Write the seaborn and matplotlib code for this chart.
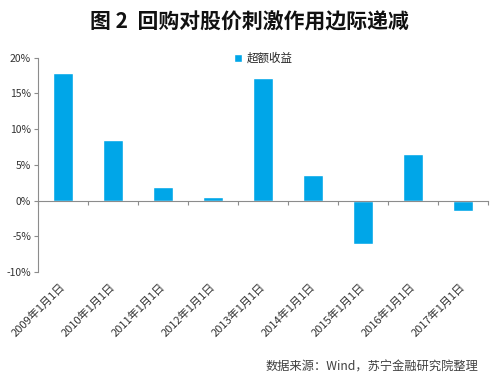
import matplotlib
matplotlib.use("Agg")
import matplotlib.pyplot as plt
import matplotlib.ticker as mticker
import seaborn as sns
import pandas as pd

categories = ["2009年1月1日", "2010年1月1日", "2011年1月1日", "2012年1月1日", "2013年1月1日",
              "2014年1月1日", "2015年1月1日", "2016年1月1日", "2017年1月1日"]
excess_return = [17.8, 8.5, 1.85, 0.45, 17.1, 3.6, -6.05, 6.45, -1.45]
series_name = "超额收益"
title = "图 2  回购对股价刺激作用边际递减"
source = "数据来源：Wind，苏宁金融研究院整理"
y_ticks = [-10, -5, 0, 5, 10, 15, 20]

sns.set_style("white")
plt.rcParams["font.family"] = ["Noto Sans CJK SC", "DejaVu Sans"]
plt.rcParams["axes.unicode_minus"] = False

df = pd.DataFrame({"date": categories, "value": excess_return})

fig = plt.figure(figsize=(4.94, 3.79), dpi=100)
ax = fig.add_axes([38 / 494, 1 - 272 / 379, 450 / 494, (272 - 57.7) / 379])

bar_color = "#00A6E8"
grey = "#8C8C8C"
sns.barplot(data=df, x="date", y="value", color=bar_color, width=0.4,
            saturation=1, label=series_name, ax=ax)

ax.set_xlim(-0.5, len(categories) - 0.5)
ax.set_ylim(-10, 20)
ax.set_yticks(y_ticks)
ax.yaxis.set_major_formatter(mticker.FuncFormatter(lambda v, p: f"{v:.0f}%"))
ax.set_xlabel("")
ax.set_ylabel("")

for s in ["top", "right"]:
    ax.spines[s].set_visible(False)
ax.spines["left"].set_color(grey)
ax.spines["left"].set_linewidth(0.8)
ax.spines["bottom"].set_color(grey)
ax.spines["bottom"].set_linewidth(0.8)
ax.spines["bottom"].set_position(("data", 0))

ax.tick_params(axis="y", which="major", direction="out", length=3, width=0.8,
               color=grey, labelsize=7.5, labelcolor="#333333", pad=2, left=True)
ax.set_xticks([i + 0.5 for i in range(-1, len(categories))], minor=True)
ax.tick_params(axis="x", which="minor", direction="out", length=3, width=0.8,
               color=grey, bottom=True)
ax.tick_params(axis="x", which="major", length=0, labelsize=8,
               labelcolor="#333333", pad=61)
plt.setp(ax.get_xticklabels(), rotation=45, ha="right", va="center",
         rotation_mode="anchor")

leg = ax.legend(loc="upper center", bbox_to_anchor=(0.5, 1.075), frameon=False,
                fontsize=8.3, handlelength=0.7, handleheight=0.7,
                handletextpad=0.4)

fig.text(0.504, 1 - 22 / 379, title, ha="center", va="center",
         fontsize=15, fontweight="bold", color="#111111")
fig.text(478 / 494, 1 - 367 / 379, source, ha="right", va="center",
         fontsize=8.8, style="italic", color="#404040")

fig.savefig("out.png", dpi=100)
